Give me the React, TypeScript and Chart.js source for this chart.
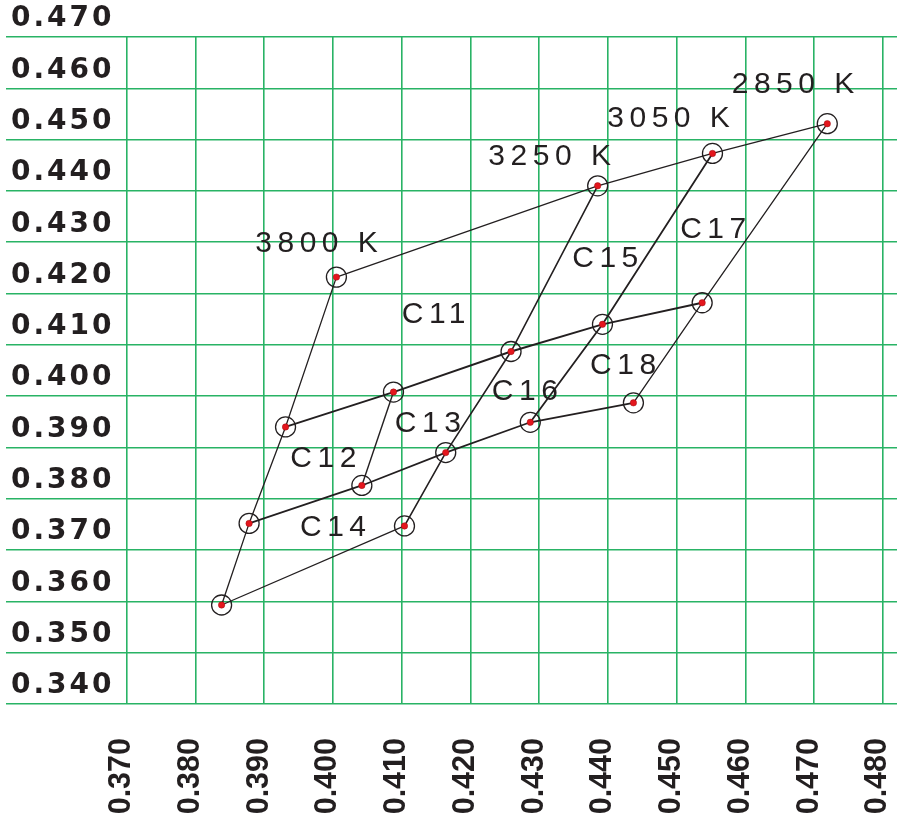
import React, { useEffect, useRef } from 'react';
import { Chart, registerables } from 'chart.js';

Chart.register(...registerables);

// Axis ticks
const xTickValues = [0.37, 0.38, 0.39, 0.4, 0.41, 0.42, 0.43, 0.44, 0.45, 0.46, 0.47, 0.48];
const yTickValues = [0.34, 0.35, 0.36, 0.37, 0.38, 0.39, 0.4, 0.41, 0.42, 0.43, 0.44, 0.45, 0.46, 0.47];
const xMin = 0.35244;
const xMax = 0.48204;
const yMin = 0.34;
const yMax = 0.47;

// Measured chromaticity points (x, y)
const pointX = [0.4719, 0.4552, 0.4385, 0.4005, 0.4537, 0.4392, 0.4259, 0.4088, 0.3931, 0.4437, 0.4287, 0.4164, 0.4042, 0.3878, 0.4104, 0.3838];
const pointY = [0.4531, 0.4473, 0.4410, 0.4232, 0.4182, 0.4140, 0.4087, 0.4008, 0.3940, 0.3987, 0.3949, 0.3890, 0.3826, 0.3752, 0.3747, 0.3593];

// Polylines connecting points (indices into pointX / pointY)
const lineTop = [3, 2, 1, 0];
const lineRow2 = [8, 7, 6, 5, 4];
const lineRow3 = [13, 12, 11, 10, 9];
const lineRow4 = [15, 14];
const line3800 = [3, 8, 13, 15];
const line3250 = [2, 6, 11, 14];
const line3050 = [1, 5, 10];
const line2850 = [0, 4, 9];
const lineDiag = [7, 12];

// Colour temperature labels
const cctLabels = ['2850 K', '3050 K', '3250 K', '3800 K'];
const cctLabelX = [0.4580, 0.4399, 0.4226, 0.3887];
const cctLabelY = [0.4591, 0.4525, 0.4450, 0.4281];

// Region labels
const regionLabels = ['C17', 'C15', 'C11', 'C13', 'C12', 'C14', 'C16', 'C18'];
const regionLabelX = [0.4505, 0.4348, 0.4100, 0.4090, 0.3938, 0.3952, 0.4231, 0.4374];
const regionLabelY = [0.4308, 0.4252, 0.4143, 0.3930, 0.3862, 0.3727, 0.3992, 0.4043];

const GRID = '#29b365';
const INK = '#231f20';

const pts = (idx: number[]) => idx.map((i) => ({ x: pointX[i], y: pointY[i] }));
const allPts = pointX.map((x, i) => ({ x, y: pointY[i] }));

const lineDs = (idx: number[], w: number) => ({
  data: pts(idx),
  showLine: true,
  borderColor: INK,
  borderWidth: w,
  pointRadius: 0,
  fill: false,
  tension: 0,
});

const textPlugin = {
  id: 'textPlugin',
  beforeDraw(chart: any) {
    chart.ctx.letterSpacing = '3px';
  },
  beforeDatasetsDraw(chart: any) {
    chart.ctx.letterSpacing = '0px';
  },
  afterDatasetsDraw(chart: any) {
    const ctx = chart.ctx;
    const xs = chart.scales.x;
    const ys = chart.scales.y;
    ctx.save();
    ctx.letterSpacing = '5.5px';
    ctx.font = '30px "Liberation Sans", Arial, sans-serif';
    ctx.fillStyle = INK;
    ctx.textAlign = 'left';
    ctx.textBaseline = 'alphabetic';
    cctLabels.forEach((t, i) => {
      ctx.fillText(t, xs.getPixelForValue(cctLabelX[i]), ys.getPixelForValue(cctLabelY[i]));
    });
    regionLabels.forEach((t, i) => {
      ctx.fillText(t, xs.getPixelForValue(regionLabelX[i]), ys.getPixelForValue(regionLabelY[i]));
    });
    ctx.restore();
    ctx.letterSpacing = '0px';
  },
};

export default function App() {
  const ref = useRef<HTMLCanvasElement | null>(null);
  useEffect(() => {
    if (!ref.current) return;
    const chart = new Chart(ref.current, {
      type: 'scatter',
      data: {
        datasets: [
          {
            data: allPts,
            pointRadius: 3.2,
            pointBackgroundColor: '#e4161d',
            pointBorderColor: '#9a0d10',
            pointBorderWidth: 0.5,
            showLine: false,
          },
          {
            data: allPts,
            pointRadius: 10,
            pointBackgroundColor: 'rgba(0,0,0,0)',
            pointBorderColor: INK,
            pointBorderWidth: 1.3,
            showLine: false,
          },
          lineDs(lineTop, 1.3),
          lineDs(lineRow2, 1.9),
          lineDs(lineRow3, 1.7),
          lineDs(lineRow4, 1.3),
          lineDs(line3800, 1.3),
          lineDs(line3250, 1.6),
          lineDs(line3050, 1.8),
          lineDs(line2850, 1.3),
          lineDs(lineDiag, 1.4),
        ] as any,
      },
      options: {
        responsive: false,
        animation: false,
        events: [],
        layout: { autoPadding: false, padding: { top: 37, left: 0, right: 0, bottom: 0 } },
        plugins: { legend: { display: false }, tooltip: { enabled: false } },
        scales: {
          x: {
            type: 'linear',
            position: 'bottom',
            min: xMin,
            max: xMax,
            afterBuildTicks: (s: any) => {
              s.ticks = xTickValues.map((v) => ({ value: v }));
            },
            afterFit: (s: any) => {
              s.height = 121;
              s.paddingLeft = 0;
              s.paddingRight = 0;
            },
            grid: { color: GRID, lineWidth: 1.6, drawTicks: false },
            border: { display: false },
            ticks: {
              z: 1,
              autoSkip: false,
              minRotation: 90,
              maxRotation: 90,
              padding: 34,
              labelOffset: -5,
              color: INK,
              font: { family: '"Liberation Sans", Arial, sans-serif', size: 30.5, weight: 'bold' },
              callback: (v: any) => Number(v).toFixed(3),
            },
          },
          y: {
            type: 'linear',
            position: 'left',
            min: yMin,
            max: yMax,
            afterBuildTicks: (s: any) => {
              s.ticks = yTickValues.map((v) => ({ value: v }));
            },
            afterFit: (s: any) => {
              s.width = 6;
              s.paddingTop = 0;
              s.paddingBottom = 0;
            },
            grid: { color: GRID, lineWidth: 1.6, drawTicks: false },
            border: { display: false },
            ticks: {
              z: 0,
              autoSkip: false,
              mirror: true,
              padding: 5,
              labelOffset: -18,
              color: INK,
              font: { family: '"DejaVu Sans", sans-serif', size: 28, weight: 'bold' },
              callback: (v: any) => Number(v).toFixed(3),
            },
          },
        },
      } as any,
      plugins: [textPlugin],
    });
    return () => chart.destroy();
  }, []);

  return (
    <div style={{ position: 'absolute', left: 0, top: 0, width: 897, height: 825 }}>
      <canvas ref={ref} width={897} height={825} style={{ width: 897, height: 825, display: 'block' }} />
    </div>
  );
}
